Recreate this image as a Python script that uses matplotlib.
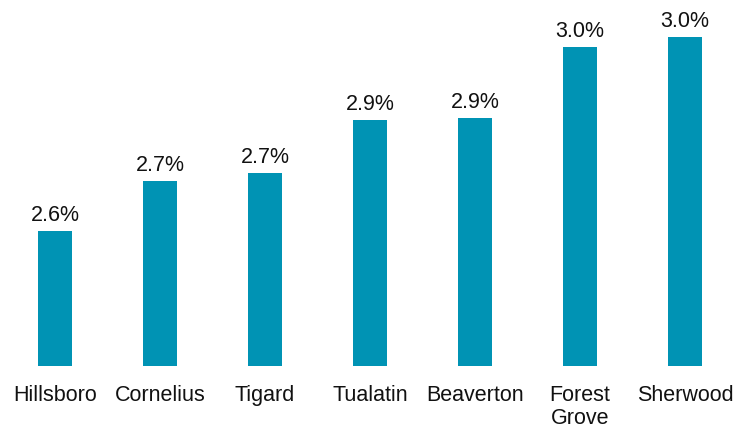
import matplotlib
matplotlib.use("Agg")
import matplotlib.pyplot as plt

cities = ["Hillsboro", "Cornelius", "Tigard", "Tualatin", "Beaverton", "Forest\nGrove", "Sherwood"]
values = [2.63, 2.73, 2.746, 2.852, 2.856, 2.998, 3.018]

plt.rcParams['font.family'] = ['Liberation Sans', 'DejaVu Sans']

fig = plt.figure(figsize=(7.51, 4.31), dpi=100)
ax = fig.add_axes([2.5/751, 64/431, 735/751, 367/431])
color = "#0093B4"
x = range(len(cities))
bars = ax.bar(x, values, width=0.325, color=color)
ax.set_xlim(-0.5, len(cities) - 0.5)
ax.set_ylim(2.36, 3.094)
for xi, v in zip(x, values):
    ax.annotate(f"{v:.1f}%", (xi, v), xytext=(0, 4), textcoords="offset points",
                ha="center", va="bottom", fontsize=15.5, color="#111111")
ax.set_xticks(list(x))
ax.set_xticklabels(cities, fontsize=15.5, color="#111111", linespacing=1.12)
ax.tick_params(axis="x", length=0, pad=13)
ax.set_yticks([])
for s in ax.spines.values():
    s.set_visible(False)
fig.savefig("out.png", dpi=100)
